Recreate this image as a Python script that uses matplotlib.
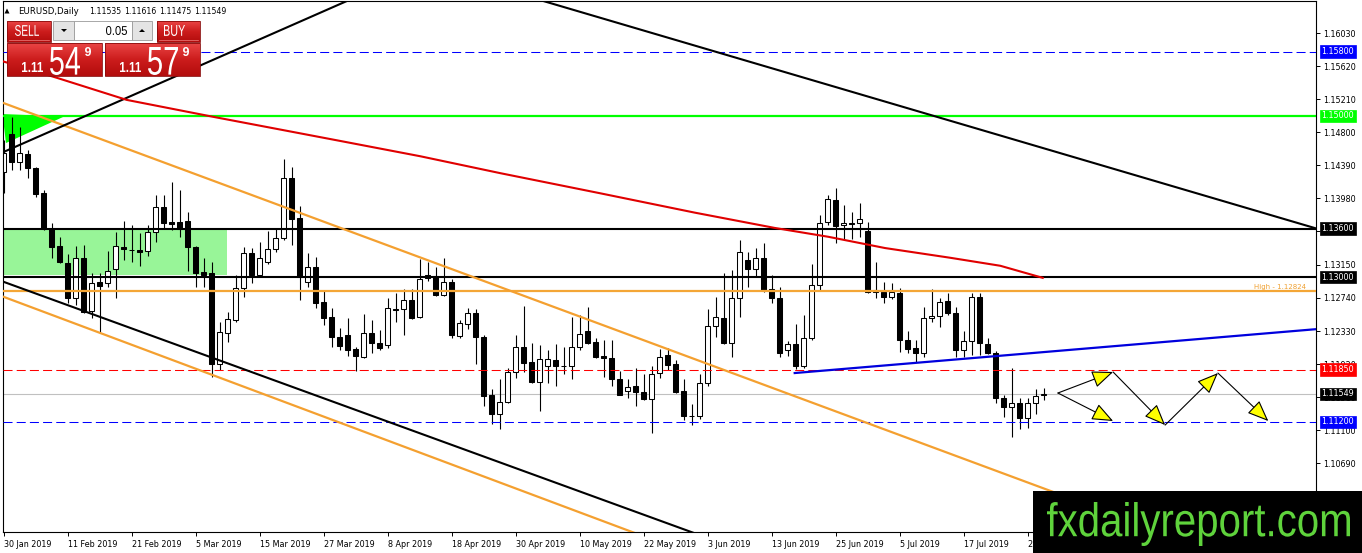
import matplotlib
matplotlib.use('Agg')
import matplotlib.pyplot as plt
import numpy as np
from matplotlib.patches import Rectangle, Polygon, PathPatch
from matplotlib.textpath import TextPath
from matplotlib.font_manager import FontProperties
from matplotlib.transforms import Affine2D, blended_transform_factory
from matplotlib.colors import LinearSegmentedColormap

plt.rcParams['lines.scale_dashes'] = False
plt.rcParams['font.family'] = ['DejaVu Sans']

# ---------------- data ----------------
symbol_text = "EURUSD,Daily"
header_values = ["1.11535", "1.11616", "1.11475", "1.11549"]

opens = [1.1430, 1.1478, 1.1443, 1.1453, 1.1435, 1.1404, 1.1360, 1.1339, 1.1318, 1.1274,
         1.1324, 1.1258, 1.1294, 1.1292, 1.1310, 1.1337, 1.1334, 1.1333, 1.1332, 1.1356,
         1.1387, 1.1368, 1.1368, 1.1370, 1.1337, 1.1306, 1.1305, 1.1192, 1.1231, 1.1247,
         1.1286, 1.1330, 1.1303, 1.1319, 1.1335, 1.1348, 1.1423, 1.1373, 1.1294, 1.1312,
         1.1269, 1.1250, 1.1226, 1.1228, 1.1211, 1.1201, 1.1231, 1.1218, 1.1216, 1.1260,
         1.1260, 1.1272, 1.1250, 1.1303, 1.1301, 1.1278, 1.1294, 1.1227, 1.1242, 1.1255,
         1.1226, 1.1154, 1.1130, 1.1145, 1.1182, 1.1213, 1.1195, 1.1170, 1.1189, 1.1197,
         1.1190, 1.1189, 1.1213, 1.1233, 1.1219, 1.1202, 1.1199, 1.1173, 1.1158, 1.1165,
         1.1157, 1.1149, 1.1181, 1.1203, 1.1192, 1.1158, 1.1128, 1.1127, 1.1168, 1.1239,
         1.1249, 1.1218, 1.1274, 1.1321, 1.1310, 1.1324, 1.1285, 1.1274, 1.1209, 1.1217,
         1.1190, 1.1224, 1.1290, 1.1368, 1.1396, 1.1365, 1.1367, 1.1367, 1.1357, 1.1284,
         1.1281, 1.1275, 1.1280, 1.1222, 1.1212, 1.1206, 1.1249, 1.1252, 1.1270, 1.1255,
         1.1209, 1.1221, 1.1275, 1.1217, 1.1206, 1.1150, 1.1139, 1.1144, 1.1125, 1.1144,
         1.11535]
highs = [1.1470, 1.1499, 1.1486, 1.1458, 1.1437, 1.1408, 1.1367, 1.1350, 1.1329, 1.1339,
         1.1340, 1.1305, 1.1305, 1.1332, 1.1356, 1.1370, 1.1365, 1.1355, 1.1365, 1.1402,
         1.1402, 1.1418, 1.1408, 1.1381, 1.1339, 1.1324, 1.1319, 1.1244, 1.1257, 1.1303,
         1.1337, 1.1336, 1.1343, 1.1357, 1.1360, 1.1447, 1.1437, 1.1388, 1.1330, 1.1325,
         1.1284, 1.1262, 1.1237, 1.1249, 1.1213, 1.1254, 1.1247, 1.1234, 1.1274, 1.1280,
         1.1285, 1.1285, 1.1322, 1.1319, 1.1312, 1.1324, 1.1298, 1.1247, 1.1262, 1.1260,
         1.1228, 1.1161, 1.1173, 1.1187, 1.1228, 1.1264, 1.1218, 1.1216, 1.1209, 1.1217,
         1.1213, 1.1250, 1.1253, 1.1263, 1.1224, 1.1222, 1.1222, 1.1183, 1.1173, 1.1187,
         1.1180, 1.1189, 1.1211, 1.1212, 1.1197, 1.1174, 1.1142, 1.1179, 1.1260, 1.1275,
         1.1305, 1.1309, 1.1346, 1.1331, 1.1336, 1.1342, 1.1302, 1.1288, 1.1221, 1.1242,
         1.1253, 1.1316, 1.1377, 1.1402, 1.1411, 1.1389, 1.1381, 1.1392, 1.1368, 1.1319,
         1.1294, 1.1293, 1.1286, 1.1233, 1.1222, 1.1263, 1.1285, 1.1274, 1.1280, 1.1263,
         1.1233, 1.1280, 1.1280, 1.1224, 1.1208, 1.1154, 1.1187, 1.1150, 1.1150, 1.1161,
         1.11616]
lows = [1.1404, 1.1433, 1.1433, 1.1423, 1.1399, 1.1358, 1.1324, 1.1317, 1.1268, 1.1265,
        1.1255, 1.1249, 1.1232, 1.1288, 1.1274, 1.1321, 1.1319, 1.1314, 1.1326, 1.1343,
        1.1361, 1.1358, 1.1350, 1.1307, 1.1288, 1.1288, 1.1176, 1.1185, 1.1219, 1.1244,
        1.1275, 1.1292, 1.1301, 1.1316, 1.1331, 1.1346, 1.1340, 1.1272, 1.1288, 1.1262,
        1.1240, 1.1213, 1.1209, 1.1202, 1.1183, 1.1199, 1.1206, 1.1210, 1.1212, 1.1244,
        1.1228, 1.1248, 1.1249, 1.1295, 1.1276, 1.1276, 1.1224, 1.1224, 1.1236, 1.1192,
        1.1140, 1.1118, 1.1111, 1.1144, 1.1175, 1.1182, 1.1169, 1.1134, 1.1169, 1.1165,
        1.1180, 1.1174, 1.1210, 1.1217, 1.1199, 1.1176, 1.1165, 1.1153, 1.1150, 1.1140,
        1.1147, 1.1106, 1.1175, 1.1185, 1.1156, 1.1122, 1.1116, 1.1124, 1.1165, 1.1226,
        1.1217, 1.1201, 1.1250, 1.1288, 1.1300, 1.1281, 1.1268, 1.1201, 1.1202, 1.1186,
        1.1187, 1.1222, 1.1284, 1.1365, 1.1342, 1.1346, 1.1347, 1.1350, 1.1280, 1.1274,
        1.1268, 1.1273, 1.1207, 1.1206, 1.1195, 1.1201, 1.1244, 1.1238, 1.1253, 1.1201,
        1.1201, 1.1203, 1.1203, 1.1205, 1.1144, 1.1126, 1.1101, 1.1111, 1.1112, 1.1130,
        1.11475]
closes = [1.1454, 1.1443, 1.1454, 1.1435, 1.1403, 1.1361, 1.1337, 1.1319, 1.1274, 1.1324,
          1.1257, 1.1293, 1.1289, 1.1307, 1.1339, 1.1335, 1.1333, 1.1331, 1.1356, 1.1387,
          1.1367, 1.1366, 1.1360, 1.1337, 1.1305, 1.1303, 1.1192, 1.1232, 1.1248, 1.1286,
          1.1330, 1.1302, 1.1324, 1.1335, 1.1348, 1.1423, 1.1372, 1.1300, 1.1312, 1.1268,
          1.1249, 1.1226, 1.1214, 1.1210, 1.1202, 1.1231, 1.1218, 1.1212, 1.1262, 1.1259,
          1.1272, 1.1249, 1.1298, 1.1299, 1.1278, 1.1294, 1.1228, 1.1243, 1.1255, 1.1226,
          1.1152, 1.1130, 1.1145, 1.1182, 1.1213, 1.1193, 1.1170, 1.1198, 1.1198, 1.1189,
          1.1189, 1.1213, 1.1229, 1.1218, 1.1201, 1.1199, 1.1173, 1.1154, 1.1163, 1.1157,
          1.1149, 1.1180, 1.1201, 1.1191, 1.1157, 1.1127, 1.1127, 1.1168, 1.1239, 1.1250,
          1.1218, 1.1274, 1.1331, 1.1310, 1.1324, 1.1284, 1.1274, 1.1206, 1.1217, 1.1190,
          1.1224, 1.1290, 1.1367, 1.1397, 1.1363, 1.1367, 1.1366, 1.1372, 1.1282, 1.1282,
          1.1275, 1.1281, 1.1222, 1.1211, 1.1206, 1.1249, 1.1252, 1.1269, 1.1255, 1.1210,
          1.1221, 1.1275, 1.1218, 1.1206, 1.1150, 1.1139, 1.1144, 1.1125, 1.1144, 1.1152,
          1.11549]

date_labels = ["30 Jan 2019", "11 Feb 2019", "21 Feb 2019", "5 Mar 2019", "15 Mar 2019",
               "27 Mar 2019", "8 Apr 2019", "18 Apr 2019", "30 Apr 2019", "10 May 2019",
               "22 May 2019", "3 Jun 2019", "13 Jun 2019", "25 Jun 2019", "5 Jul 2019",
               "17 Jul 2019", "29 Jul 2019"]
price_ticks = [1.16030, 1.15620, 1.15210, 1.14800, 1.14390, 1.13980, 1.13570, 1.13150,
               1.12740, 1.12330, 1.11920, 1.11510, 1.11100, 1.10690, 1.10280]

# horizontal levels
level_prices = [1.15800, 1.15000, 1.13600, 1.13000, 1.12824, 1.11850, 1.11549, 1.11200]
level_colors = ['#0000ff', '#00ff00', '#000000', '#000000', '#f4a636', '#ff0000', '#c0c0c0', '#0000ff']
level_styles = ['dash', 'solid', 'solid', 'solid', 'solid', 'dash', 'solid', 'dash']
level_widths = [0.75, 1.6, 1.5, 1.5, 1.6, 0.75, 0.8, 0.75]
tag_prices = [1.15800, 1.15000, 1.13600, 1.13000, 1.11850, 1.11549, 1.11200]
tag_colors = ['#0000ff', '#00ff00', '#000000', '#000000', '#ff0000', '#000000', '#0000ff']
high_label = "High - 1.12824"

# moving average (red)
ma_x = [-0.44, 6.8, 15.4, 26.2, 42.1, 52.1, 62.1, 74.6, 86.4, 96.4, 103.1, 110.2, 118.3, 124.6, 129.9]
ma_y = [1.1569, 1.1547, 1.1520, 1.1499, 1.1469, 1.1450, 1.1429, 1.1404, 1.1380, 1.1361,
        1.1350, 1.1336, 1.1324, 1.1314, 1.1299]

# trend lines: (x0, y0, x1, y1)
orange_lines = [(-0.44, 1.15177, 164.1, 1.09121), (-0.44, 1.12771, 79.6, 1.09796)]
black_lines = [(-0.2, 1.14544, 43.2, 1.16440), (67.06, 1.16440, 164.1, 1.13603),
               (-0.44, 1.12957, 87.1, 1.09793)]
blue_line = (98.9, 1.11808, 164.1, 1.12353)
green_rect = (-0.1, 1.13020, 27.9, 1.13590)
green_triangle = [(-0.125, 1.15024), (7.56, 1.14993), (0.31, 1.14664)]

# projected path arrows
arrows = [(131.8, 1.11560, 138.7, 1.11821), (131.8, 1.11560, 138.7, 1.11212),
          (138.7, 1.11821, 145.2, 1.11162), (145.2, 1.11162, 151.8, 1.11808),
          (151.8, 1.11808, 158.1, 1.11212)]

# trading panel
sell_price = ("1.11", "54", "9")
buy_price = ("1.11", "57", "9")
lot_size = "0.05"
logo_text = "fxdailyreport.com"

# ---------------- figure ----------------
W, H = 1362, 553
fig = plt.figure(figsize=(W / 100, H / 100), dpi=100)
fig.patch.set_facecolor('white')
ax = fig.add_axes([2.5 / W, (H - 532) / H, (1316 - 2.5) / W, 531 / H])
ax.set_facecolor('white')

o = np.array(opens); h = np.array(highs); l = np.array(lows); c = np.array(closes)
x = np.arange(len(o))
up = c >= o

# background objects
gx0, gy0, gx1, gy1 = green_rect
ax.add_patch(Rectangle((gx0, gy0), gx1 - gx0, gy1 - gy0, fc='#98f598', ec='none', zorder=1))
ax.add_patch(Polygon(green_triangle, closed=True, fc='#00ff00', ec='none', zorder=1))

# candles
ax.vlines(x, l, h, color='black', lw=0.8, zorder=2)
bottoms = np.minimum(o, c)
heights = np.maximum(np.abs(c - o), 0.000008)
ax.bar(x, heights, bottom=bottoms, width=0.62,
       color=['white' if u else 'black' for u in up],
       edgecolor='black', linewidth=0.75, zorder=2.5)

# horizontal levels
for p, col, st, lw in zip(level_prices, level_colors, level_styles, level_widths):
    z = 1.5 if col == '#c0c0c0' else 3
    if st == 'dash':
        ax.axhline(p, color=col, lw=lw, dashes=(6.5, 3.0), zorder=z)
    else:
        ax.axhline(p, color=col, lw=lw, zorder=z)

# trend lines
for (x0, y0, x1, y1) in orange_lines:
    ax.plot([x0, x1], [y0, y1], color='#f4a030', lw=1.6, zorder=3, solid_capstyle='butt')
for (x0, y0, x1, y1) in black_lines:
    ax.plot([x0, x1], [y0, y1], color='black', lw=1.5, zorder=3, solid_capstyle='butt')
bx0, by0, bx1, by1 = blue_line
ax.plot([bx0, bx1], [by0, by1], color='#0000dd', lw=1.6, zorder=3)
ax.plot(ma_x, ma_y, color='#e00000', lw=1.5, zorder=3)

# high label
ax.text(162.8, level_prices[4] + 0.00012, high_label, ha='right', va='bottom',
        fontsize=5, color='#f0a030', zorder=4)

# projection arrows
for (x0, y0, x1, y1) in arrows:
    ax.annotate('', xy=(x1, y1), xytext=(x0, y0),
                arrowprops=dict(arrowstyle='-|>,head_length=1.1,head_width=0.45',
                                fc='#ffff00', ec='black', lw=0.8,
                                shrinkA=0, shrinkB=0, mutation_scale=12),
                zorder=5)

ax.set_xlim(-0.125, 164.06)
ax.set_ylim(1.09834, 1.16428)

# axes styling
for sp in ax.spines.values():
    sp.set_color('black'); sp.set_linewidth(0.8)
ax.yaxis.tick_right()
ax.set_yticks(price_ticks)
ax.set_yticklabels([f"{v:.5f}" for v in price_ticks])
ax.tick_params(axis='y', direction='out', length=3, width=0.7, pad=2.5,
               labelsize=5.8, colors='black')
ax.set_xticks(np.arange(len(date_labels)) * 8)
ax.set_xticklabels(date_labels)
for t in ax.get_xticklabels():
    t.set_ha('left')
ax.tick_params(axis='x', direction='out', length=3, width=0.7, pad=2.5, labelsize=5.8)

# price tags on the right axis
bt = blended_transform_factory(ax.transAxes, ax.transData)
for p, col in zip(tag_prices, tag_colors):
    ax.text(1.0043, p, f"{p:.5f}", transform=bt, ha='left', va='center', fontsize=5.8,
            color='white', clip_on=False, zorder=6,
            bbox=dict(boxstyle='square,pad=0.22', fc=col, ec=col, lw=0.5))

# ---------------- overlay (panel, logo) ----------------
ov = fig.add_axes([0, 0, 1, 1])
ov.axis('off')


def fit_text(axo, s, x0, x1, ytop, ybot, color, weight='normal', family='Liberation Sans', z=10):
    fp = FontProperties(family=family, weight=weight)
    tp = TextPath((0, 0), s, size=1, prop=fp)
    bb = tp.get_extents()
    sx = (x1 - x0) / bb.width
    sy = (ybot - ytop) / bb.height
    tr = Affine2D().translate(-bb.x0, -bb.y0).scale(sx, -sy).translate(x0, ybot) + axo.transData
    axo.add_patch(PathPatch(tp, fc=color, ec='none', transform=tr, zorder=z))


red_cmap = LinearSegmentedColormap.from_list('r', ['#ea4545', '#cc1c1c', '#b30d0d'])
grad = np.linspace(0, 1, 64).reshape(-1, 1)

# header
ov.add_patch(Polygon([(4.5, 13.5), (9.5, 13.5), (7, 8.5)], closed=True, fc='black', ec='none'))
ov.text(18, 11.5, symbol_text, fontsize=6.2, va='center', ha='left', color='black')
for i, v in enumerate(header_values):
    ov.text(89 + 35 * i, 11.5, v, fontsize=5.6, va='center', ha='left', color='black')

# buttons
for (bx, bw) in [(7, 44), (157, 43)]:
    ov.imshow(grad, extent=(bx, bx + bw, 42, 21), cmap=red_cmap, aspect='auto',
              interpolation='bilinear', zorder=7)
    ov.add_patch(Rectangle((bx, 21), bw, 21, fc='none', ec='#8a0c0c', lw=0.6, zorder=8))
    ov.plot([bx + 2, bx + bw - 2], [39.5, 39.5], color='#f08080', lw=0.5, zorder=8)
fit_text(ov, "SELL", 15, 39, 25, 36, 'white')
fit_text(ov, "BUY", 164, 185, 25, 36, 'white')

ov.add_patch(Rectangle((53, 21), 21, 19, fc='#e4e4e4', ec='#9a9a9a', lw=0.6, zorder=7))
ov.add_patch(Rectangle((74, 21), 58, 19, fc='white', ec='#9a9a9a', lw=0.6, zorder=7))
ov.add_patch(Rectangle((132, 21), 20, 19, fc='#e4e4e4', ec='#9a9a9a', lw=0.6, zorder=7))
ov.add_patch(Polygon([(61, 29), (67, 29), (64, 32)], closed=True, fc='black', ec='none', zorder=9))
ov.add_patch(Polygon([(139, 32), (145, 32), (142, 29)], closed=True, fc='black', ec='none', zorder=9))
fit_text(ov, lot_size, 106, 127, 26, 35, 'black')

# big price boxes
for (bx, prc) in [(7, sell_price), (105, buy_price)]:
    ov.imshow(grad, extent=(bx, bx + 95, 76, 43), cmap=red_cmap, aspect='auto',
              interpolation='bilinear', zorder=7)
    ov.add_patch(Rectangle((bx, 43), 95, 33, fc='none', ec='#8a0c0c', lw=0.6, zorder=8))
    fit_text(ov, prc[0], bx + 15, bx + 36, 62, 72, 'white', weight='bold')
    fit_text(ov, prc[1], bx + 43, bx + 73, 47, 75, 'white')
    fit_text(ov, prc[2], bx + 78, bx + 84, 47, 56, 'white', weight='bold')

# logo
ov.add_patch(Rectangle((1033, 491), W - 1033, H - 491, fc='black', ec='none', zorder=7))
fit_text(ov, logo_text, 1047, 1350, 502, 546, '#5fd33c')

ov.set_xlim(0, W)
ov.set_ylim(H, 0)

fig.savefig('out.png', dpi=100)
